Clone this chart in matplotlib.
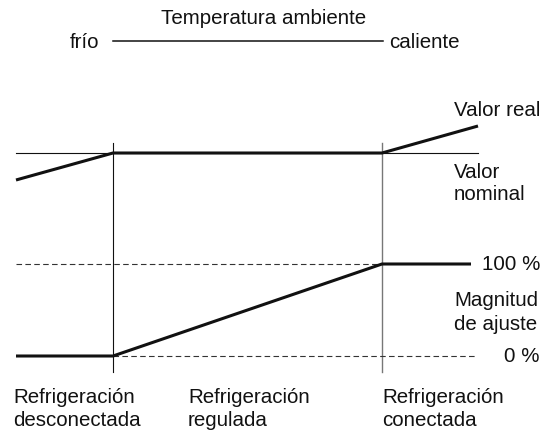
import matplotlib
matplotlib.use("Agg")
import matplotlib.pyplot as plt

plt.rcParams["font.family"] = ["Liberation Sans", "DejaVu Sans"]

# x positions along the ambient temperature axis (pixel-like units)
X_LEFT = 16
X_ON = 113      # cooling starts being regulated
X_FULL = 382    # cooling fully on
X_RIGHT = 478

# y levels (pixel-like units, top = 0)
Y_NOMINAL = 153
Y_100 = 264
Y_0 = 356

# actual value curve
real_x = [X_LEFT, X_ON, X_FULL, X_RIGHT]
real_y = [180, Y_NOMINAL, Y_NOMINAL, 126]

# manipulated variable curve
adj_x = [X_LEFT, X_ON, X_FULL, 471]
adj_y = [Y_0, Y_0, Y_100, Y_100]

bottom_labels = ["Refrigeración\ndesconectada", "Refrigeración\nregulada", "Refrigeración\nconectada"]
bottom_x = [13, 188, 382]

TEXT = "#111111"
FS = 14.8

fig = plt.figure(figsize=(5.48, 4.30), dpi=100)
ax = fig.add_axes([0, 0, 1, 1])
ax.set_xlim(0, 548)
ax.set_ylim(430, 0)
ax.axis("off")

# header: temperature axis
ax.text(263.5, 19, "Temperatura ambiente", ha="center", va="center", fontsize=FS, color=TEXT)
ax.text(84, 42, "frío", ha="center", va="center", fontsize=FS, color=TEXT)
ax.plot([113, 383], [41, 41], color=TEXT, lw=1.1)
ax.text(389, 42, "caliente", ha="left", va="center", fontsize=FS, color=TEXT)

# guide lines
ax.plot([X_LEFT, X_RIGHT], [Y_NOMINAL, Y_NOMINAL], color=TEXT, lw=0.8)
ax.plot([X_ON, X_ON], [143, 372], color=TEXT, lw=0.8)
ax.plot([X_FULL, X_FULL], [143, 372], color="#777777", lw=1.0)
ax.plot([X_LEFT, X_FULL], [Y_100, Y_100], color="#333333", lw=0.8, ls=(0, (5, 3)))
ax.plot([X_ON, 477], [Y_0, Y_0], color="#333333", lw=0.8, ls=(0, (5, 3)))

# curves
ax.plot(real_x, real_y, color=TEXT, lw=2.2, solid_capstyle="butt")
ax.plot(adj_x, adj_y, color=TEXT, lw=2.2, solid_capstyle="butt")

# right side labels
ax.text(454, 111, "Valor real", ha="left", va="center", fontsize=FS, color=TEXT)
ax.text(454, 172, "Valor", ha="left", va="center", fontsize=FS, color=TEXT)
ax.text(454, 195, "nominal", ha="left", va="center", fontsize=FS, color=TEXT)
ax.text(540, 265, "100 %", ha="right", va="center", fontsize=FS, color=TEXT)
ax.text(454, 300, "Magnitud", ha="left", va="center", fontsize=FS, color=TEXT)
ax.text(454, 325, "de ajuste", ha="left", va="center", fontsize=FS, color=TEXT)
ax.text(540, 356, "0 %", ha="right", va="center", fontsize=FS, color=TEXT)

for lbl, x in zip(bottom_labels, bottom_x):
    ax.text(x, 409, lbl, ha="left", va="center", fontsize=FS, color=TEXT, linespacing=1.3)

fig.savefig("out.png", dpi=100, facecolor="white")
